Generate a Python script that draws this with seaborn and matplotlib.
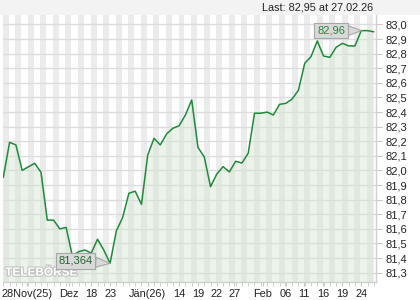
import matplotlib
matplotlib.use("Agg")
import matplotlib.pyplot as plt
import matplotlib.patheffects as pe
import seaborn as sns
import numpy as np
import pandas as pd

# ---- data ----
values = [81.953, 82.193, 82.175, 82.001, 82.025, 82.049, 81.988, 81.660, 81.660, 81.600,
          81.610, 81.414, 81.444, 81.455, 81.433, 81.529, 81.455, 81.364, 81.586, 81.677,
          81.844, 81.858, 81.768, 82.106, 82.220, 82.175, 82.250, 82.289, 82.307, 82.380,
          82.483, 82.158, 82.093, 81.889, 81.976, 82.026, 81.990, 82.063, 82.051, 82.118,
          82.392, 82.392, 82.400, 82.380, 82.453, 82.460, 82.490, 82.550, 82.734, 82.780,
          82.887, 82.784, 82.775, 82.844, 82.871, 82.853, 82.853, 82.958, 82.958, 82.950]
tick_pos = [3.8, 10.5, 14, 17, 23, 28, 31, 34, 36.8, 41.3, 44.9, 47.9, 50.9, 54, 57]
tick_labels = ["28Nov(25)", "Dez", "18", "23", "Jän(26)", "14", "19", "22", "27",
               "Feb", "06", "11", "16", "19", "24"]
y_ticks = [81.3, 81.4, 81.5, 81.6, 81.7, 81.8, 81.9, 82.0, 82.1, 82.2, 82.3, 82.4,
           82.5, 82.6, 82.7, 82.8, 82.9, 83.0]
max_label = "82,96"
min_label = "81,364"
title = "Last: 82,95 at 27.02.26"

df = pd.DataFrame({"idx": np.arange(len(values)), "price": values})

sns.set_style("white")
plt.rcParams["font.family"] = ["Liberation Sans", "DejaVu Sans"]

W, H = 420, 300
fig = plt.figure(figsize=(W / 100, H / 100), dpi=100)
fig.patch.set_facecolor("white")

# top band
fig.patches.append(plt.Rectangle((0, 1 - 15 / H), 1, 15 / H, transform=fig.transFigure,
                                 facecolor="#f3f3f3", edgecolor="none", zorder=0))

ax = fig.add_axes([3 / W, 18 / H, 373 / W, 267 / H])
ax.set_facecolor("white")

ymin, ymax = 81.236, 83.065
ax.set_xlim(-0.05, 59.35)
ax.set_ylim(ymin, ymax)

# alternating vertical stripes
for i in range(0, len(values) + 1, 2):
    ax.add_patch(plt.Rectangle((i - 0.1, ymin), 0.95, ymax - ymin,
                               facecolor="#ebebeb", edgecolor="none", lw=0, zorder=0.5))

# horizontal grid
for v in y_ticks:
    ax.axhline(v, color="#dcdcdc", lw=1, zorder=1)

ax.fill_between(df["idx"], df["price"], ymin, color="#d6e6d2", alpha=0.45, lw=0, zorder=2)
sns.lineplot(data=df, x="idx", y="price", ax=ax, color="#1f8a3a", lw=1.1, zorder=3)

# annotations
imax = int(np.argmax(values))
imin = int(np.argmin(values))
ax.annotate(max_label, xy=(imax, values[imax]), xytext=(52.2, values[imax]),
            ha="center", va="center", fontsize=8, color="#1f8a3a", zorder=5,
            bbox=dict(boxstyle="square,pad=0.25", fc="#d9d9d9", ec="#a8a8a8", lw=0.8),
            arrowprops=dict(arrowstyle="wedge,tail_width=0.9,shrink_factor=0.5",
                            fc="#d9d9d9", ec="#a8a8a8", lw=0.8, shrinkA=0, shrinkB=0))
ax.annotate(min_label, xy=(imin, values[imin]), xytext=(11.5, 81.38),
            ha="center", va="center", fontsize=8, color="#25632f", zorder=5,
            bbox=dict(boxstyle="square,pad=0.25", fc="#d9d9d9", ec="#a8a8a8", lw=0.8),
            arrowprops=dict(arrowstyle="wedge,tail_width=0.9,shrink_factor=0.5",
                            fc="#d9d9d9", ec="#a8a8a8", lw=0.8, shrinkA=0, shrinkB=0))

# watermark
ax.text(0.3, 81.30, "TELEBÖRSE", fontsize=8.5, fontweight="bold", color="white",
        ha="left", va="center", zorder=4,
        path_effects=[pe.withStroke(linewidth=1.6, foreground="#c4c4c4")])

# axes styling
for s in ["top", "left"]:
    ax.spines[s].set_visible(False)
for s in ["bottom", "right"]:
    ax.spines[s].set_color("#d0d0d0")
    ax.spines[s].set_linewidth(1)

ax.yaxis.tick_right()
ax.set_yticks(y_ticks)
ax.set_yticklabels([f"{v:.1f}".replace(".", ",") for v in y_ticks])
ax.set_xticks(tick_pos)
ax.set_xticklabels(tick_labels)
ax.set_xticks(np.arange(0, 60), minor=True)
ax.tick_params(axis="x", which="both", length=3, color="#c8c8c8", labelsize=7.9,
               labelcolor="#222222", pad=2, direction="out", bottom=True)
ax.tick_params(axis="y", which="both", length=4, color="#c8c8c8", labelsize=8,
               labelcolor="#222222", pad=3, right=True, left=False)
ax.set_xlabel("")
ax.set_ylabel("")

fig.text(373 / W, 1 - 7 / H, title, ha="right", va="center", fontsize=7.8, color="#222222")

fig.savefig("out.png", dpi=100)
